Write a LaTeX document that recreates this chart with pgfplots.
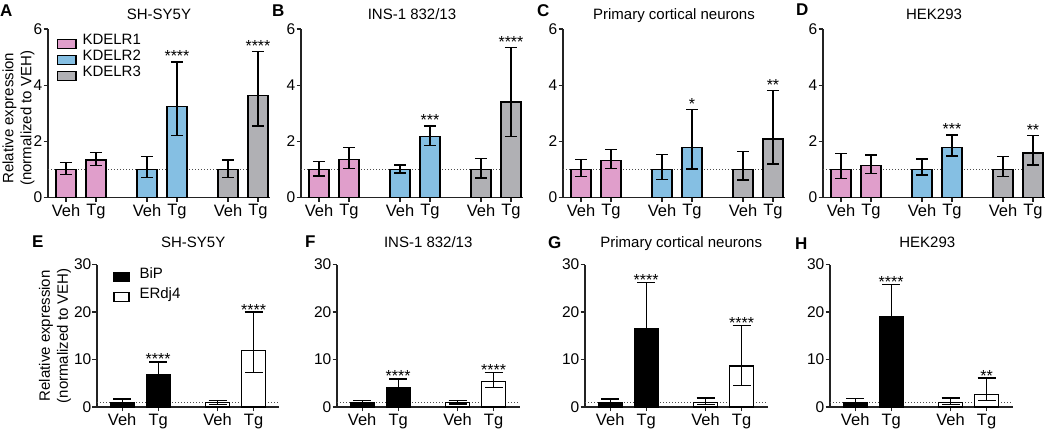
\documentclass[border=0pt]{standalone}
\usepackage{fontspec}
\setmainfont{Liberation Sans}
\usepackage{pgfplots}
\pgfplotsset{compat=1.18}
\definecolor{kpink}{RGB}{224,158,203}
\definecolor{kblue}{RGB}{133,191,227}
\definecolor{kgray}{RGB}{176,176,180}
\definecolor{axc}{RGB}{35,35,35}
\pgfplotsset{
  base/.style={
    scale only axis, anchor=south west, clip=false,
    axis lines=left, axis line style={-, line width=1.4pt, axc},
    tick align=outside, major tick length=4.5pt,
    tick style={line width=1.3pt, axc},
    ymin=0,
    font=\fontsize{15}{18}\selectfont,
    /pgf/number format/assume math mode=true,
    xticklabel style={inner sep=2pt, font=\fontsize{16.5}{18}\selectfont},
    yticklabel style={font=\fontsize{15.5}{18}\selectfont},
    title style={at={(0.5,1)}, anchor=base, font=\fontsize{15}{18}\selectfont},
  },
  top/.style={base, width=222pt, height=168.5pt, xmin=-0.6, xmax=6.8, ymax=6,
    ytick={0,2,4,6}, xtick={0,1,2.7,3.7,5.4,6.4}, xticklabels={Veh,Tg,Veh,Tg,Veh,Tg},
    yticklabel style={inner sep=1pt}, title style={yshift=3.5pt}},
  bot/.style={base, width=182.5pt, height=142.5pt, xmin=-0.7, xmax=4.37, ymax=30,
    ytick={0,10,20,30}, xtick={0,1,2.65,3.65}, xticklabels={Veh,Tg,Veh,Tg},
    yticklabel style={inner sep=1pt}, title style={yshift=11pt}},
  tbar/.style={ybar, bar width=0.667, bar shift=0pt, draw=black, line width=1.3pt, fill=#1,
    error bars/y dir=both, error bars/y explicit,
    error bars/error bar style={line width=1.3pt, black, solid},
    error bars/error mark options={rotate=90, line width=1.3pt, black, mark size=6pt},
    legend image code/.code={\draw[fill=#1, draw=black, line width=1.3pt] (0pt,-7pt) rectangle (18pt,2pt);}},
  bbar/.style={ybar, bar width=0.667, bar shift=0pt, draw=black, line width=1.3pt, fill=#1,
    error bars/y dir=both, error bars/y explicit,
    error bars/error bar style={line width=1.3pt, black, solid},
    error bars/error mark options={rotate=90, line width=1.3pt, black, mark size=9pt},
    legend image code/.code={\draw[fill=#1, draw=black, line width=1.3pt] (0pt,-7pt) rectangle (15pt,2pt);}},
  dotline/.style={forget plot, sharp plot, no markers, line width=1pt, black!70, dash pattern=on 1pt off 2pt},
  stars/.style={forget plot, only marks, mark=none, nodes near coords, point meta=explicit symbolic,
     nodes near coords style={anchor=base, inner sep=0pt, font=\fontsize{16}{18}\selectfont}},
  bstars/.style={stars, nodes near coords style={yshift=-3pt}},
}
\begin{document}
\begin{tikzpicture}
\useasboundingbox (0,0) rectangle (1050pt,431pt);
% ---------------- A ----------------
\begin{axis}[top, at={(48pt,233.5pt)}, title={SH-SY5Y},
  ylabel={Relative expression\\(normalized to VEH)},
  ylabel style={at={(axis description cs:-0.133,0.47)}, anchor=center, align=center},
  legend style={at={(0,1)}, anchor=north west, xshift=9pt, yshift=-4pt, draw=none, fill=none,
    inner sep=0pt, column sep=5pt, nodes={inner sep=1pt, text height=10.5pt, text depth=3.5pt}},
  legend cell align=left]
\addplot[dotline] coordinates {(-0.6,1) (6.8,1)};
\addplot[tbar=kpink] coordinates {(0,1.0) += (0,0.25) -= (0,0.17) (1,1.34) += (0,0.26) -= (0,0.19)};
\addlegendentry{KDELR1}
\addplot[tbar=kblue] coordinates {(2.7,1.0) += (0,0.46) -= (0,0.3) (3.7,3.24) += (0,1.59) -= (0,1.02)};
\addlegendentry{KDELR2}
\addplot[tbar=kgray] coordinates {(5.4,1.0) += (0,0.34) -= (0,0.29) (6.4,3.62) += (0,1.57) -= (0,1.07)};
\addlegendentry{KDELR3}
\addplot[stars] coordinates {(3.7,4.83) [****] (6.4,5.19) [****]};
\end{axis}
% ---------------- B ----------------
\begin{axis}[top, at={(301pt,233.5pt)}, title={INS-1 832/13}]
\addplot[dotline] coordinates {(-0.6,1) (6.8,1)};
\addplot[tbar=kpink] coordinates {(0,1.0) += (0,0.28) -= (0,0.23) (1,1.35) += (0,0.43) -= (0,0.32)};
\addplot[tbar=kblue] coordinates {(2.7,1.0) += (0,0.16) -= (0,0.13) (3.7,2.17) += (0,0.38) -= (0,0.31)};
\addplot[tbar=kgray] coordinates {(5.4,1.0) += (0,0.39) -= (0,0.31) (6.4,3.4) += (0,1.94) -= (0,1.23)};
\addplot[stars] coordinates {(3.7,2.55) [***] (6.4,5.34) [****]};
\end{axis}
% ---------------- C ----------------
\begin{axis}[top, at={(563pt,233.5pt)}, title={Primary cortical neurons}]
\addplot[dotline] coordinates {(-0.6,1) (6.8,1)};
\addplot[tbar=kpink] coordinates {(0,1.0) += (0,0.36) -= (0,0.25) (1,1.31) += (0,0.4) -= (0,0.27)};
\addplot[tbar=kblue] coordinates {(2.7,1.0) += (0,0.52) -= (0,0.35) (3.7,1.79) += (0,1.35) -= (0,0.78)};
\addplot[tbar=kgray] coordinates {(5.4,1.0) += (0,0.63) -= (0,0.38) (6.4,2.08) += (0,1.72) -= (0,0.89)};
\addplot[stars] coordinates {(3.7,3.14) [*] (6.4,3.8) [**]};
\end{axis}
% ---------------- D ----------------
\begin{axis}[top, at={(823pt,233.5pt)}, title={HEK293}]
\addplot[dotline] coordinates {(-0.6,1) (6.8,1)};
\addplot[tbar=kpink] coordinates {(0,1.0) += (0,0.57) -= (0,0.32) (1,1.15) += (0,0.36) -= (0,0.29)};
\addplot[tbar=kblue] coordinates {(2.7,1.0) += (0,0.37) -= (0,0.2) (3.7,1.78) += (0,0.45) -= (0,0.3)};
\addplot[tbar=kgray] coordinates {(5.4,1.0) += (0,0.45) -= (0,0.26) (6.4,1.58) += (0,0.62) -= (0,0.42)};
\addplot[stars] coordinates {(3.7,2.23) [***] (6.4,2.2) [**]};
\end{axis}
% ---------------- E ----------------
\begin{axis}[bot, at={(97pt,24pt)}, title={SH-SY5Y}, title style={xshift=5pt},
  ylabel={Relative expression\\(normalized to VEH)},
  ylabel style={at={(axis description cs:-0.230,0.5)}, anchor=center, align=center},
  legend style={at={(0,1)}, anchor=north west, xshift=16pt, yshift=0pt, draw=none, fill=none,
    inner sep=0pt, column sep=7pt, nodes={inner sep=3pt, text height=10.5pt, text depth=3.5pt}},
  legend cell align=left]
\addplot[dotline] coordinates {(-0.7,1) (4.37,1)};
\addplot[bbar=black] coordinates {(0,1.0) += (0,0.7) -= (0,0.5) (1,6.8) += (0,2.7) -= (0,2.0)};
\addlegendentry{BiP}
\addplot[bbar=white] coordinates {(2.65,0.9) += (0,0.5) -= (0,0.4) (3.65,11.9) += (0,8.1) -= (0,4.7)};
\addlegendentry{ERdj4}
\addplot[bstars] coordinates {(1,9.5) [****] (3.65,20.0) [****]};
\end{axis}
% ---------------- F ----------------
\begin{axis}[bot, at={(337pt,24pt)}, title={INS-1 832/13}]
\addplot[dotline] coordinates {(-0.7,1) (4.37,1)};
\addplot[bbar=black] coordinates {(0,1.0) += (0,0.4) -= (0,0.3) (1,4.0) += (0,1.9) -= (0,1.5)};
\addplot[bbar=white] coordinates {(2.65,0.9) += (0,0.4) -= (0,0.3) (3.65,5.4) += (0,1.8) -= (0,1.3)};
\addplot[bstars] coordinates {(1,5.9) [****] (3.65,7.2) [****]};
\end{axis}
% ---------------- G ----------------
\begin{axis}[bot, at={(585pt,24pt)}, title={Primary cortical neurons}, title style={xshift=5pt}]
\addplot[dotline] coordinates {(-0.7,1) (4.37,1)};
\addplot[bbar=black] coordinates {(0,1.0) += (0,0.7) -= (0,0.5) (1,16.4) += (0,9.8) -= (0,7.0)};
\addplot[bbar=white] coordinates {(2.65,1.0) += (0,0.9) -= (0,0.5) (3.65,8.6) += (0,8.6) -= (0,4.1)};
\addplot[bstars] coordinates {(1,26.2) [****] (3.65,17.2) [****]};
\end{axis}
% ---------------- H ----------------
\begin{axis}[bot, at={(830pt,24pt)}, title={HEK293}, title style={xshift=6pt}]
\addplot[dotline] coordinates {(-0.7,1) (4.37,1)};
\addplot[bbar=black] coordinates {(0,1.0) += (0,0.8) -= (0,0.5) (1,19.0) += (0,6.8) -= (0,6.0)};
\addplot[bbar=white] coordinates {(2.65,0.9) += (0,1.0) -= (0,0.4) (3.65,2.6) += (0,3.5) -= (0,1.3)};
\addplot[bstars] coordinates {(1,25.8) [****] (3.65,6.1) [**]};
\end{axis}
% panel letters
\begin{scope}[every node/.style={anchor=base west, inner sep=0pt, font=\bfseries\fontsize{17}{17}\selectfont}]
\node at (0pt,414pt) {A};
\node at (272pt,414pt) {B};
\node at (537pt,414pt) {C};
\node at (796pt,415pt) {D};
\node at (32pt,183pt) {E};
\node at (305pt,183pt) {F};
\node at (548pt,182pt) {G};
\node at (795pt,181pt) {H};
\end{scope}
\end{tikzpicture}
\end{document}
